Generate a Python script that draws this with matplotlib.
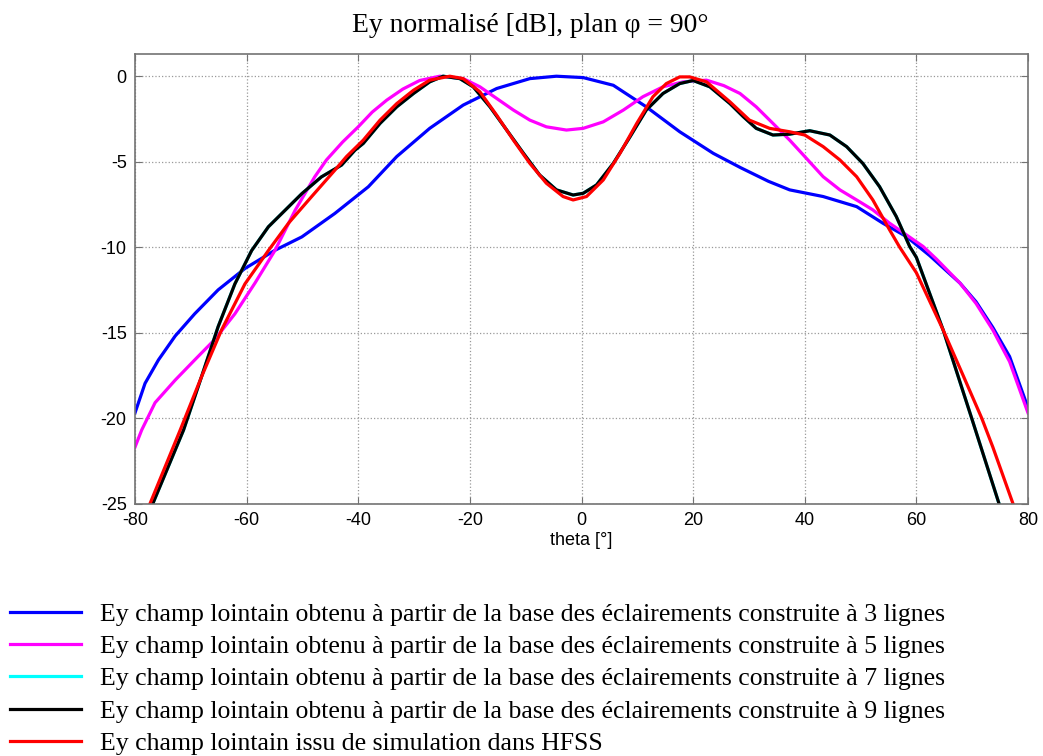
import matplotlib.pyplot as plt

plt.rcParams['axes.unicode_minus'] = False

# theta [deg] / dB values
theta_3 = [-80, -78.2, -75.8, -72.8, -69.3, -65.1, -60.3, -54.9, -50.1, -44.2, -38.2, -33.1,
           -27.2, -21.2, -15.2, -9.25, -4.5, 0.3, 5.7, 11.6, 17.6, 23.6, 28.5, 33.5, 37.3,
           43.3, 49.3, 54, 58.2, 62.4, 67.8, 70.7, 73.7, 76.7, 80]
ey_3 = [-19.7, -17.97, -16.6, -15.2, -13.9, -12.5, -11.25, -10.18, -9.4, -8.03, -6.47, -4.7,
        -3.05, -1.69, -0.72, -0.14, 0, -0.08, -0.53, -1.79, -3.25, -4.51, -5.35, -6.15, -6.65,
        -7.04, -7.63, -8.6, -9.38, -10.5, -12.1, -13.2, -14.7, -16.4, -19.4]

theta_5 = [-80, -78.8, -76.4, -72.8, -69.3, -65.7, -62.1, -58.5, -54.9, -51.3, -47.8, -45.7,
           -42.8, -40, -37.5, -34.9, -32, -29, -25.4, -21.2, -18.2, -15.2, -12.2, -9.25, -6.3,
           -2.7, 0.3, 3.9, 7.5, 11, 14.6, 18.2, 22.4, 25.5, 28.4, 31.3, 34.3, 37.3, 40, 43.3,
           46.3, 49.3, 52.2, 55.2, 58.2, 61.2, 63.6, 67.8, 70.7, 73.7, 76.7, 80]
ey_5 = [-21.7, -20.7, -19.1, -17.78, -16.6, -15.4, -13.9, -12.1, -10.18, -7.84, -5.89, -4.9,
        -3.85, -2.96, -2.1, -1.4, -0.75, -0.25, 0, -0.14, -0.62, -1.3, -1.98, -2.57, -2.96,
        -3.15, -3.05, -2.67, -1.98, -1.2, -0.62, -0.33, -0.23, -0.55, -1.01, -1.79, -2.76,
        -3.74, -4.7, -5.88, -6.65, -7.24, -7.82, -8.6, -9.28, -9.96, -10.7, -12.1, -13.3,
        -14.85, -16.7, -19.7]

theta_9 = [-80, -76.8, -71.3, -68.1, -65.1, -62.1, -59.1, -56.1, -53.1, -50.1, -46.6, -43,
           -40.6, -39.1, -36.1, -33.1, -30.1, -27.2, -24.8, -21.8, -19.4, -16.4, -13.4, -10.4,
           -7.5, -4.5, -1.5, 0.3, 2.7, 5.7, 8.7, 11.6, 14.6, 17.6, 20, 23, 26.6, 29, 31.3, 34.3,
           37.3, 40.9, 44.5, 47.5, 50.4, 53.4, 56.4, 58.8, 60, 64.8, 69.9, 74.8, 80]
ey_9 = [-28.2, -25, -20.7, -17.6, -14.65, -12.15, -10.2, -8.81, -7.84, -6.87, -5.89, -5.2,
        -4.33, -3.93, -2.76, -1.79, -1.01, -0.33, 0, -0.14, -0.62, -1.79, -3.15, -4.51, -5.78,
        -6.65, -6.95, -6.85, -6.36, -5.1, -3.54, -1.98, -1.01, -0.43, -0.25, -0.62, -1.6, -2.37,
        -3.05, -3.44, -3.39, -3.19, -3.44, -4.12, -5.1, -6.46, -8.21, -9.96, -10.6, -14.85, -20,
        -25, -30.3]

# 7-line curve lies under the 9-line one
theta_7 = theta_9
ey_7 = ey_9

theta_hfss = [-80, -77.3, -71.9, -68.1, -64.5, -60.3, -56.1, -52.5, -48.4, -44.2, -42.1, -39.1,
              -36.1, -33.1, -30.1, -27.2, -23.6, -21.2, -18.2, -15.2, -12.2, -9.25, -6.3, -3.3,
              -1.5, 0.9, 3.9, 6.9, 9.9, 12.8, 15.2, 17.6, 19.4, 22.4, 26.6, 30.1, 33.7, 37.3, 40,
              43.3, 46.3, 49.3, 52.2, 55.2, 57, 60, 64.8, 68.5, 71.7, 73.7, 77.3, 80]
ey_hfss = [-27.3, -25, -20.7, -17.6, -14.85, -12.15, -10.2, -8.6, -7.06, -5.5, -4.7, -3.74,
           -2.57, -1.6, -0.82, -0.23, 0, -0.14, -0.91, -2.28, -3.74, -5.1, -6.26, -7.04, -7.24,
           -7.04, -6.07, -4.51, -2.76, -1.2, -0.43, -0.04, -0.04, -0.33, -1.5, -2.57, -3.05,
           -3.25, -3.44, -4.12, -4.9, -5.88, -7.24, -8.99, -10.0, -11.5, -14.85, -17.6, -20,
           -21.7, -25, -27.4]

labels = ['Ey champ lointain obtenu à partir de la base des éclairements construite à 3 lignes',
          'Ey champ lointain obtenu à partir de la base des éclairements construite à 5 lignes',
          'Ey champ lointain obtenu à partir de la base des éclairements construite à 7 lignes',
          'Ey champ lointain obtenu à partir de la base des éclairements construite à 9 lignes',
          'Ey champ lointain issu de simulation dans HFSS']

fig = plt.figure(figsize=(10.43, 7.56), dpi=100)
ax = fig.add_axes([135/1043, 1 - 503.5/756, (1028 - 135)/1043, (503.5 - 54)/756])

lw = 2.3
ax.plot(theta_3, ey_3, color='#0000ff', lw=lw, label=labels[0])
ax.plot(theta_5, ey_5, color='#ff00ff', lw=lw, label=labels[1])
ax.plot(theta_7, ey_7, color='#00ffff', lw=lw, label=labels[2])
ax.plot(theta_9, ey_9, color='black', lw=lw, label=labels[3])
ax.plot(theta_hfss, ey_hfss, color='#ff0000', lw=lw, label=labels[4])

ax.set_xlim(-80, 80)
ax.set_ylim(-25, 1.3)
ax.set_xticks(range(-80, 81, 20))
ax.set_yticks(range(-25, 1, 5))
ax.grid(True, linestyle=':', color='0.6', lw=0.9)
ax.tick_params(direction='in', length=5, top=True, right=True, color='0.45',
               labelsize=13, pad=6)
for lab in ax.get_xticklabels() + ax.get_yticklabels():
    lab.set_family('Liberation Sans')
for s in ax.spines.values():
    s.set_color('0.45')
    s.set_linewidth(1.2)
ax.set_xlabel('theta [°]', family='Liberation Sans', fontsize=13, labelpad=2)

fig.text(530/1043, 1 - 25/756, 'Ey normalisé [dB], plan φ = 90°', family='Liberation Serif',
         fontsize=19.9, ha='center', va='center')

fig.legend(loc='upper left', bbox_to_anchor=(10/1043, 1 - 603/756), frameon=False,
           prop={'family': 'Liberation Serif', 'size': 18.5}, handlelength=2.76,
           handletextpad=0.75, labelspacing=0.36, borderaxespad=0, borderpad=0)

fig.savefig('out.png', dpi=100)
